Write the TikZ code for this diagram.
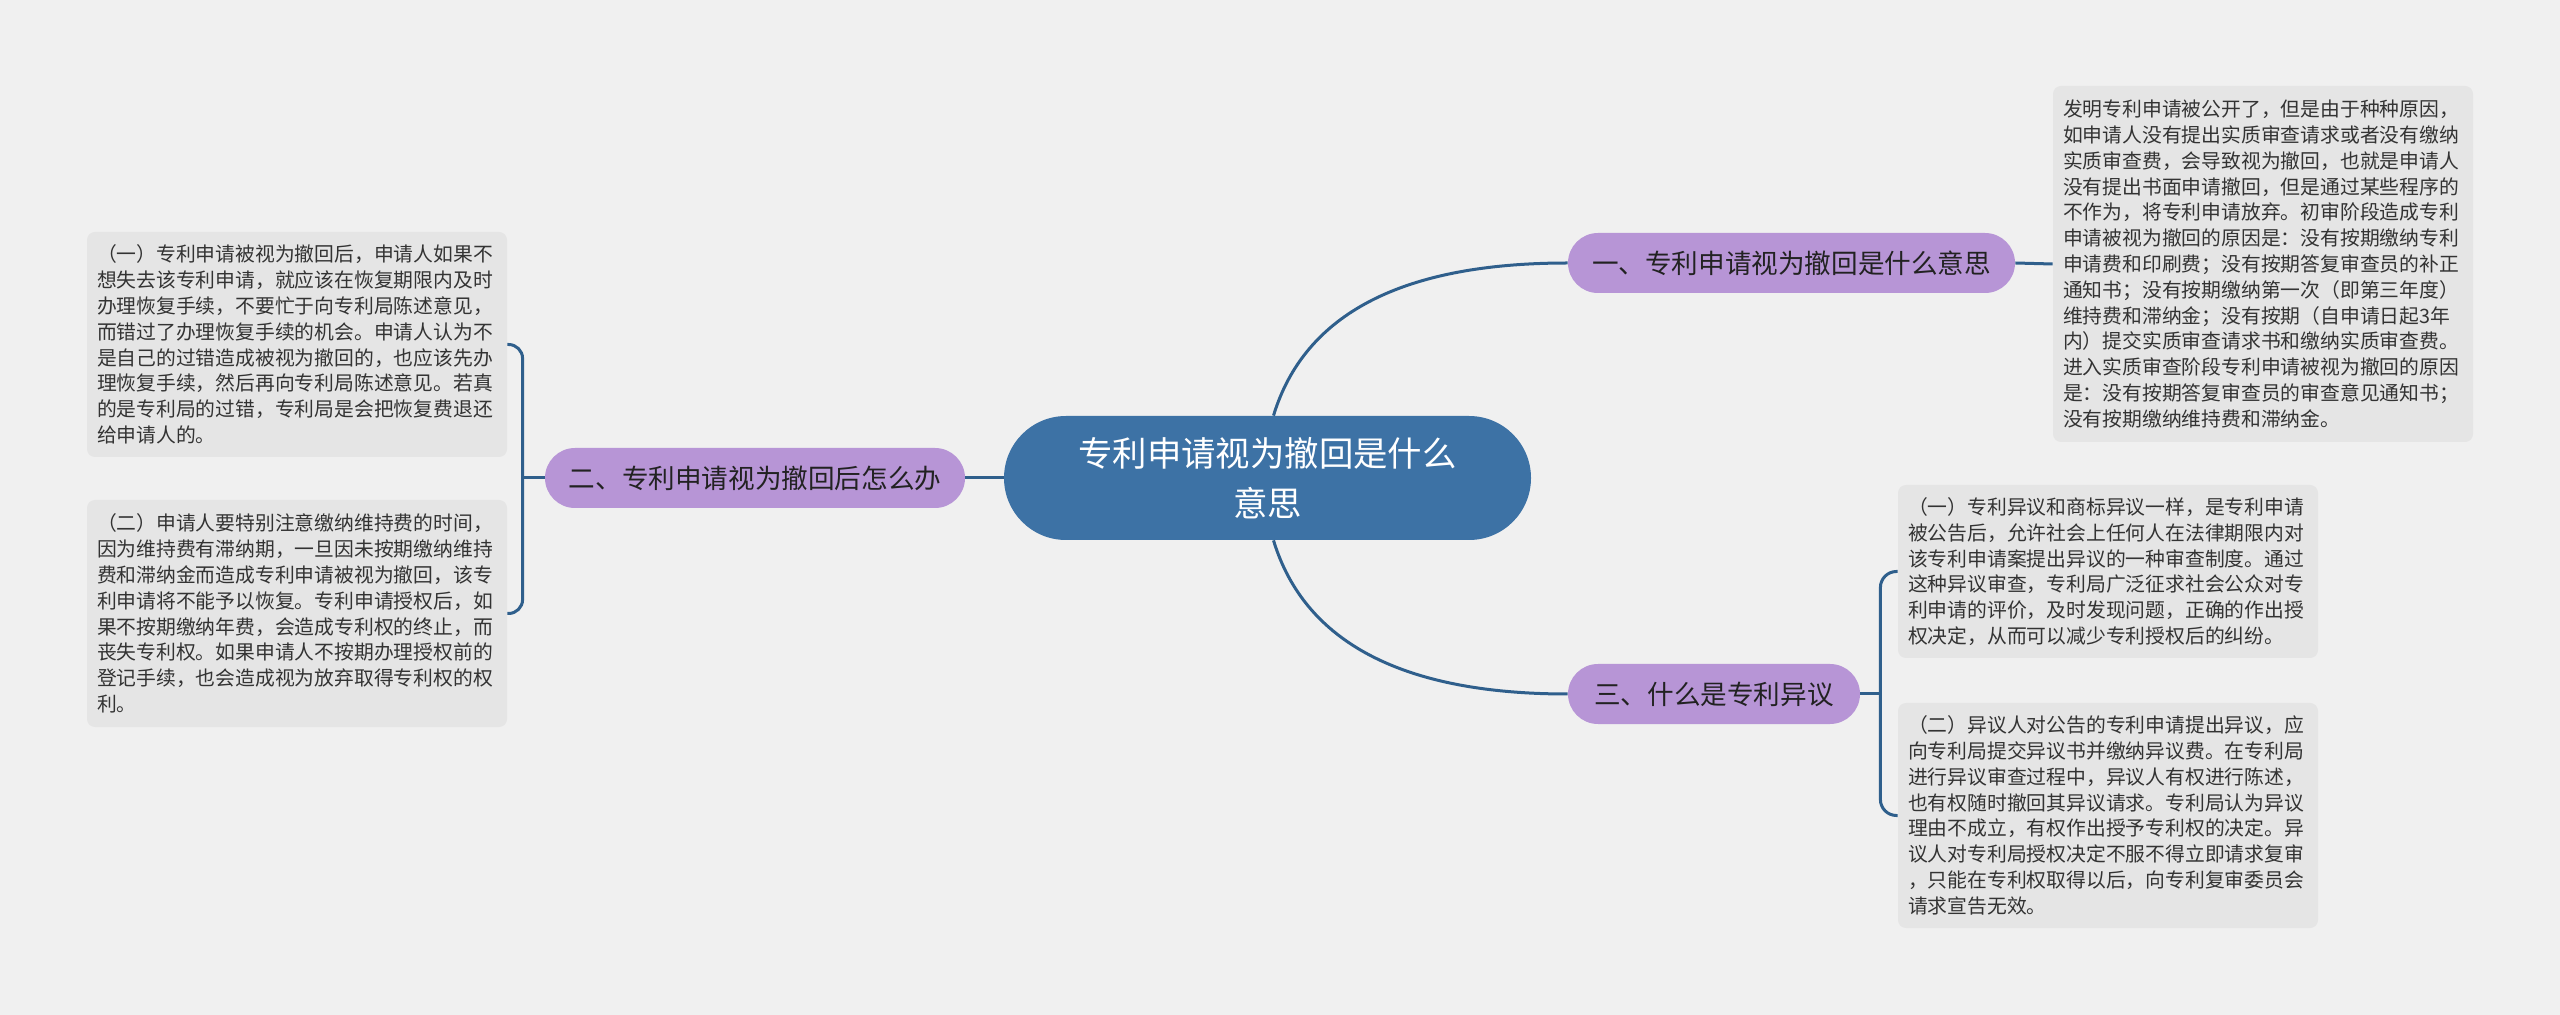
\documentclass[tikz,border=0pt]{standalone}
\usepackage{fontspec}
\setmainfont{Noto Sans CJK SC}
\usetikzlibrary{calc}
\definecolor{bgc}{HTML}{F0F0F0}
\definecolor{boxc}{HTML}{E5E5E5}
\definecolor{centc}{HTML}{3D72A5}
\definecolor{pillc}{HTML}{B795D6}
\definecolor{linec}{HTML}{2F5F8C}
\definecolor{pilltxt}{HTML}{222222}
\definecolor{leaftxt}{HTML}{333333}
\tikzset{
  conn/.style={draw=linec, line width=1.5pt},
  topic/.style={fill=centc, rounded corners=31pt, inner sep=0pt, minimum width=263.5pt, minimum height=62pt, text=white, align=center, font=\fontsize{17.2pt}{25pt}\selectfont},
  pill/.style={fill=pillc, rounded corners=15pt, inner sep=0pt, minimum height=30pt, text=pilltxt, font=\fontsize{13.3pt}{16pt}\selectfont},
  leaf/.style={fill=boxc, rounded corners=4pt, inner xsep=5pt, inner ysep=0pt, minimum width=210pt, text width=200pt, align=left, text=leaftxt, font=\fontsize{9.9pt}{12.9pt}\selectfont},
}
\begin{document}
\begin{tikzpicture}[x=0.5pt,y=-0.5pt]
\fill[bgc] (0,0) rectangle (2560,1015);
\useasboundingbox (0,0) rectangle (2560,1015);

\node[topic] (c) at (1267.5,478) {专利申请视为撤回是什么\\意思};

\node[pill, minimum width=223.5pt] (b1) at (1791.5,263) {一、专利申请视为撤回是什么意思};
\node[pill, minimum width=210pt] (b2) at (755,478) {二、专利申请视为撤回后怎么办};
\node[pill, minimum width=146pt] (b3) at (1714,694) {三、什么是专利异议};

\node[leaf, minimum height=178pt] (tr) at (2263,264) {发明专利申请被公开了，但是由于种种原因，\\
如申请人没有提出实质审查请求或者没有缴纳\\
实质审查费，会导致视为撤回，也就是申请人\\
没有提出书面申请撤回，但是通过某些程序的\\
不作为，将专利申请放弃。初审阶段造成专利\\
申请被视为撤回的原因是：没有按期缴纳专利\\
申请费和印刷费；没有按期答复审查员的补正\\
通知书；没有按期缴纳第一次（即第三年度）\\
维持费和滞纳金；没有按期（自申请日起3年\\
内）提交实质审查请求书和缴纳实质审查费。\\
进入实质审查阶段专利申请被视为撤回的原因\\
是：没有按期答复审查员的审查意见通知书；\\
没有按期缴纳维持费和滞纳金。};

\node[leaf, minimum height=112.5pt] (l1) at (297,344.5) {（一）专利申请被视为撤回后，申请人如果不\\
想失去该专利申请，就应该在恢复期限内及时\\
办理恢复手续，不要忙于向专利局陈述意见，\\
而错过了办理恢复手续的机会。申请人认为不\\
是自己的过错造成被视为撤回的，也应该先办\\
理恢复手续，然后再向专利局陈述意见。若真\\
的是专利局的过错，专利局是会把恢复费退还\\
给申请人的。};

\node[leaf, minimum height=113.5pt] (l2) at (297,613.5) {（二）申请人要特别注意缴纳维持费的时间，\\
因为维持费有滞纳期，一旦因未按期缴纳维持\\
费和滞纳金而造成专利申请被视为撤回，该专\\
利申请将不能予以恢复。专利申请授权后，如\\
果不按期缴纳年费，会造成专利权的终止，而\\
丧失专利权。如果申请人不按期办理授权前的\\
登记手续，也会造成视为放弃取得专利权的权\\
利。};

\node[leaf, minimum height=86.5pt] (r1) at (2108,571.5) {（一）专利异议和商标异议一样，是专利申请\\
被公告后，允许社会上任何人在法律期限内对\\
该专利申请案提出异议的一种审查制度。通过\\
这种异议审查，专利局广泛征求社会公众对专\\
利申请的评价，及时发现问题，正确的作出授\\
权决定，从而可以减少专利授权后的纠纷。};

\node[leaf, minimum height=112.5pt] (r2) at (2108,815.5) {（二）异议人对公告的专利申请提出异议，应\\
向专利局提交异议书并缴纳异议费。在专利局\\
进行异议审查过程中，异议人有权进行陈述，\\
也有权随时撤回其异议请求。专利局认为异议\\
理由不成立，有权作出授予专利权的决定。异\\
议人对专利局授权决定不服不得立即请求复审\\
，只能在专利权取得以后，向专利复审委员会\\
请求宣告无效。};

% connectors
\draw[conn] ([xshift=3pt]c.north) .. controls +(31,-102) and +(-165,0) .. (b1.west);
\draw[conn] ([xshift=3pt]c.south) .. controls +(31,102) and +(-165,0) .. (b3.west);
\draw[conn] (c.west) -- (b2.east);
\draw[conn] (b1.east) -- (tr.west);

\coordinate (j3) at ($(b3.east)+(20,0)$);
\draw[conn] (b3.east) -- (j3);
\draw[conn, rounded corners=8pt] (j3) -- (j3 |- r1.west) -- (r1.west);
\draw[conn, rounded corners=8pt] (j3) -- (j3 |- r2.west) -- (r2.west);

\coordinate (j2) at ($(b2.west)+(-22,0)$);
\draw[conn] (b2.west) -- (j2);
\draw[conn, rounded corners=7pt] (j2) -- (j2 |- l1.east) -- (l1.east);
\draw[conn, rounded corners=7pt] (j2) -- (j2 |- l2.east) -- (l2.east);
\end{tikzpicture}
\end{document}
